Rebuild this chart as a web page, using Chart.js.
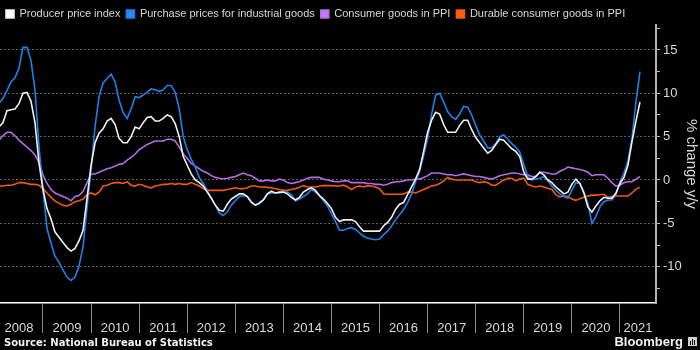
<!DOCTYPE html>
<html>
<head>
<meta charset="utf-8">
<script src="https://cdn.jsdelivr.net/npm/chart.js@4.4.0/dist/chart.umd.min.js"></script>
<style>
  html, body { margin: 0; padding: 0; background: #000; }
  #wrap { width: 700px; height: 350px; }
</style>
</head>
<body>
<div id="wrap"><canvas id="chart" width="700" height="350"></canvas></div>
<script>
// monthly y/y % change, Jan 2008 .. May 2021
const years = ['2008', '2009', '2010', '2011', '2012', '2013', '2014', '2015', '2016', '2017', '2018', '2019', '2020', '2021'];

const ppi = [
  6.1, 6.6, 8.0, 8.1, 8.2, 8.8, 10.0, 10.1, 9.1, 6.6, 2.0, -1.1,
  -3.3, -4.5, -6.0, -6.6, -7.2, -7.8, -8.2, -7.9, -7.0, -5.8, -2.1, 1.7,
  4.3, 5.4, 5.9, 6.8, 7.1, 6.4, 4.8, 4.3, 4.3, 5.0, 6.1, 5.9,
  6.6, 7.2, 7.3, 6.8, 6.8, 7.1, 7.5, 7.3, 6.5, 5.0, 2.7, 1.7,
  0.7, 0.0, -0.3, -0.7, -1.4, -2.1, -2.9, -3.5, -3.6, -2.8, -2.2, -1.9,
  -1.6, -1.6, -1.9, -2.6, -2.9, -2.7, -2.3, -1.6, -1.3, -1.5, -1.4, -1.4,
  -1.6, -2.0, -2.3, -2.0, -1.4, -1.1, -0.9, -1.2, -1.8, -2.2, -2.7, -3.3,
  -4.3, -4.8, -4.6, -4.6, -4.6, -4.8, -5.4, -5.9, -5.9, -5.9, -5.9, -5.9,
  -5.3, -4.9, -4.3, -3.4, -2.8, -2.6, -1.7, -0.8, 0.1, 1.2, 3.3, 5.5,
  6.9, 7.8, 7.6, 6.4, 5.5, 5.5, 5.5, 6.3, 6.9, 6.9, 5.8, 4.9,
  4.3, 3.7, 3.1, 3.4, 4.1, 4.7, 4.6, 4.1, 3.6, 3.3, 2.7, 0.9,
  0.1, 0.1, 0.4, 0.9, 0.6, 0.0, -0.3, -0.8, -1.2, -1.6, -1.4, -0.5,
  0.1, -0.4, -1.5, -3.1, -3.7, -3.0, -2.4, -2.0, -2.1, -2.1, -1.5, -0.4,
  0.3, 1.7, 4.4, 6.8, 9.0
];

const purchase = [
  8.8, 9.4, 10.3, 11.3, 11.8, 12.9, 15.3, 15.3, 13.8, 10.4, 3.9, -1.1,
  -5.6, -7.3, -8.8, -9.5, -10.4, -11.2, -11.6, -11.2, -9.9, -7.7, -3.2, 1.2,
  6.2, 9.6, 11.2, 11.7, 12.2, 11.3, 9.2, 7.8, 7.1, 8.2, 9.6, 9.5,
  9.8, 10.1, 10.5, 10.4, 10.2, 10.4, 10.9, 10.9, 10.1, 8.2, 5.0, 3.5,
  2.4, 1.5, 0.3, -0.4, -1.2, -2.1, -2.9, -3.8, -4.1, -3.7, -2.9, -2.4,
  -1.9, -1.8, -1.9, -2.5, -2.9, -2.6, -2.3, -1.6, -1.5, -1.5, -1.5, -1.4,
  -1.4, -1.7, -2.4, -2.2, -1.9, -1.6, -1.1, -1.4, -1.8, -2.4, -3.0, -3.9,
  -4.8, -5.8, -5.8, -5.6, -5.5, -5.7, -6.1, -6.5, -6.7, -6.8, -6.9, -6.8,
  -6.3, -5.9, -5.3, -4.6, -4.0, -3.4, -2.6, -1.6, -0.2, 1.0, 2.8, 4.8,
  7.6, 9.8, 10.0, 9.0, 7.9, 7.3, 7.0, 7.6, 8.5, 8.4, 7.5, 6.3,
  5.2, 4.5, 3.7, 3.7, 4.2, 5.0, 5.2, 4.7, 4.2, 3.8, 3.2, 1.8,
  0.4, 0.0, 0.1, 0.2, 0.4, -0.1, -0.7, -1.2, -1.6, -1.9, -2.1, -1.2,
  -0.3, -0.4, -1.4, -2.7, -5.0, -4.2, -3.1, -2.5, -2.3, -2.3, -1.7, -0.2,
  0.8, 2.2, 4.8, 9.0, 12.5
];

const consumer = [
  4.6, 5.1, 5.5, 5.5, 5.1, 4.6, 4.2, 3.8, 3.4, 2.9, 2.0, 0.6,
  -0.4, -1.1, -1.5, -1.7, -1.9, -2.1, -2.4, -1.9, -1.8, -1.3, -0.3, 0.7,
  0.7, 0.9, 1.1, 1.3, 1.4, 1.6, 1.8, 1.9, 2.3, 2.6, 3.0, 3.5,
  3.8, 4.1, 4.3, 4.5, 4.5, 4.5, 4.7, 4.7, 4.5, 3.8, 3.0, 2.5,
  1.9, 1.6, 1.3, 1.0, 0.8, 0.5, 0.3, 0.2, 0.15, 0.2, 0.3, 0.4,
  0.6, 0.8, 0.6, 0.5, 0.2, -0.1, -0.1, 0.0, -0.1, -0.1, 0.1, 0.0,
  -0.3, -0.4, -0.3, -0.2, 0.0, 0.2, 0.3, 0.3, 0.3, 0.1, 0.0, -0.1,
  -0.2, -0.2, -0.1, -0.1, -0.3, -0.3, -0.3, -0.3, -0.4, -0.4, -0.5, -0.5,
  -0.6, -0.5, -0.3, -0.2, -0.2, -0.1, 0.0, 0.0, 0.1, 0.1, 0.3, 0.5,
  0.8, 0.8, 0.8, 0.7, 0.6, 0.6, 0.5, 0.6, 0.7, 0.6, 0.5, 0.4,
  0.4, 0.3, 0.2, 0.1, 0.3, 0.5, 0.6, 0.7, 0.8, 0.8, 0.7, 0.6,
  0.6, 0.4, 0.4, 0.9, 0.9, 0.8, 0.7, 0.7, 1.0, 1.2, 1.5, 1.4,
  1.3, 1.2, 1.1, 0.9, 0.5, 0.6, 0.6, 0.6, 0.2, -0.3, -0.7, -0.6,
  -0.3, -0.2, -0.2, 0.1, 0.4
];

const durable = [
  -0.7, -0.7, -0.6, -0.6, -0.5, -0.3, -0.3, -0.4, -0.5, -0.5, -0.6, -1.0,
  -1.5, -2.0, -2.4, -2.7, -2.9, -3.0, -2.8, -2.5, -2.4, -2.2, -1.7, -1.5,
  -1.7, -1.4, -0.7, -0.6, -0.4, -0.3, -0.3, -0.4, -0.2, -0.6, -0.7, -0.5,
  -0.6, -0.8, -0.9, -0.7, -0.6, -0.5, -0.5, -0.4, -0.5, -0.4, -0.5, -0.5,
  -0.3, -0.5, -0.7, -1.0, -1.2, -1.2, -1.2, -1.2, -1.2, -1.1, -1.0, -0.9,
  -1.0, -1.0, -0.9, -0.7, -0.7, -0.8, -0.8, -0.85, -0.9, -1.0, -1.1, -1.2,
  -1.2, -1.1, -1.0, -0.85, -0.65, -0.8, -0.8, -0.8, -0.7, -0.65, -0.65, -0.65,
  -0.7, -0.7, -0.6, -0.8, -1.1, -0.8, -0.7, -0.8, -0.65, -0.7, -0.8, -1.0,
  -1.6, -1.65, -1.65, -1.65, -1.65, -1.6, -1.4, -1.4, -1.5, -1.3, -1.1, -0.9,
  -0.7, -0.6, -0.4, -0.1, 0.3, 0.1, 0.0, 0.0, 0.0, 0.0, 0.0, -0.2,
  -0.3, -0.2, -0.3, -0.6, -0.6, -0.3, 0.0, 0.2, 0.2, -0.1, 0.1, 0.2,
  -0.5, -0.7, -0.8, -0.7, -0.8, -0.95, -1.1, -1.7, -1.95, -1.85, -1.9, -2.2,
  -2.35, -2.15, -2.0, -1.85, -1.75, -1.75, -1.7, -1.65, -2.0, -1.9, -1.85, -1.85,
  -1.85, -1.85, -1.5, -1.05, -0.85
];

const yLabelTicks = [-10, -5, 0, 5, 10, 15];

const FONT = '"Liberation Sans", Arial, sans-serif';
Chart.defaults.font.family = FONT;

// x is month index, 0 = Jan 2008
const toPoints = arr => arr.map((v, i) => ({ x: i, y: v }));
const yearEdges = years.slice(1).map((y, k) => 12 * (k + 1) - 1);
const yearMids = years.map((y, k) => k === years.length - 1 ? 159.5 : 12 * k + 5);
const yMinor = yLabelTicks.map(v => v + 2.5).concat([-12.5]);

const extras = {
  id: 'extras',
  beforeDraw(chart) {
    const c = chart.ctx;
    c.save();
    c.fillStyle = '#000';
    c.fillRect(0, 0, chart.width, chart.height);
    c.restore();
  },
  afterDraw(chart) {
    const c = chart.ctx;
    c.save();
    c.fillStyle = '#f2f2f2';
    c.textBaseline = 'middle';
    c.font = 'bold 10px "DejaVu Sans", Verdana, sans-serif';
    c.fillText('Source: National Bureau of Statistics', 4, 343);
    c.font = 'bold 13px ' + FONT;
    c.textAlign = 'right';
    c.fillText('Bloomberg', 683, 342);
    // logo
    c.fillStyle = '#d0d0d0';
    c.fillRect(688, 337, 9, 9);
    c.fillStyle = '#000';
    c.fillRect(690, 341, 1, 4);
    c.fillRect(692, 339, 1, 6);
    c.fillRect(694, 340, 1, 5);
    c.restore();
  }
};

new Chart(document.getElementById('chart'), {
  type: 'line',
  data: {
    datasets: [
      { label: 'Producer price index', data: toPoints(ppi), borderColor: '#f0f0f0', backgroundColor: '#ffffff' },
      { label: 'Purchase prices for industrial goods', data: toPoints(purchase), borderColor: '#1f80e6', backgroundColor: '#2a8cf2' },
      { label: 'Consumer goods in PPI', data: toPoints(consumer), borderColor: '#b46be4', backgroundColor: '#c27cf2' },
      { label: 'Durable consumer goods in PPI', data: toPoints(durable), borderColor: '#f05a0a', backgroundColor: '#ff5f0f' }
    ]
  },
  options: {
    responsive: false,
    animation: false,
    layout: { padding: { top: 2.5, left: 0, right: 0, bottom: 15 } },
    elements: {
      point: { radius: 0 },
      line: { borderWidth: 1.6, tension: 0 }
    },
    plugins: {
      legend: {
        align: 'start',
        maxHeight: 22.5,
        labels: { boxWidth: 8, boxHeight: 8, padding: 6, color: '#d8d8d8', font: { size: 11 } }
      },
      tooltip: { enabled: false }
    },
    scales: {
      x: {
        type: 'linear',
        bounds: 'data',
        min: 0.27,
        max: 164,
        afterBuildTicks: axis => {
          axis.ticks = yearEdges.concat(yearMids).sort((a, b) => a - b).map(v => ({ value: v }));
        },
        afterFit: axis => { axis.height = 32; },
        ticks: {
          autoSkip: false,
          maxRotation: 0,
          padding: -12,
          color: '#d8d8d8',
          font: { size: 13 },
          callback: v => {
            const k = yearMids.indexOf(v);
            return k >= 0 ? years[k] : '';
          }
        },
        grid: {
          drawOnChartArea: false,
          drawTicks: true,
          tickLength: 30,
          lineWidth: 1,
          color: c => (c.tick && yearEdges.includes(c.tick.value)) ? '#8a8a8a' : 'rgba(0,0,0,0)'
        },
        border: { color: '#ffffff', width: 1.5 }
      },
      y: {
        position: 'right',
        bounds: 'data',
        min: -14.19,
        max: 17.88,
        afterBuildTicks: axis => {
          axis.ticks = yLabelTicks.concat(yMinor).sort((a, b) => a - b).map(v => ({ value: v }));
        },
        afterFit: axis => { axis.width = 44; },
        ticks: {
          padding: 3,
          color: '#d8d8d8',
          font: { size: 13 },
          callback: v => yLabelTicks.includes(v) ? String(v) : ''
        },
        grid: {
          drawOnChartArea: true,
          tickLength: 4,
          lineWidth: 1,
          tickColor: '#bbbbbb',
          color: c => (c.tick && yLabelTicks.includes(c.tick.value)) ? '#5e5e5e' : 'rgba(0,0,0,0)'
        },
        border: { color: '#b4b4b4', width: 2, dash: [2, 2] },
        title: { display: true, text: '% change y/y', color: '#d8d8d8', font: { size: 15 }, padding: 0 }
      }
    }
  },
  plugins: [extras]
});
</script>
</body>
</html>
